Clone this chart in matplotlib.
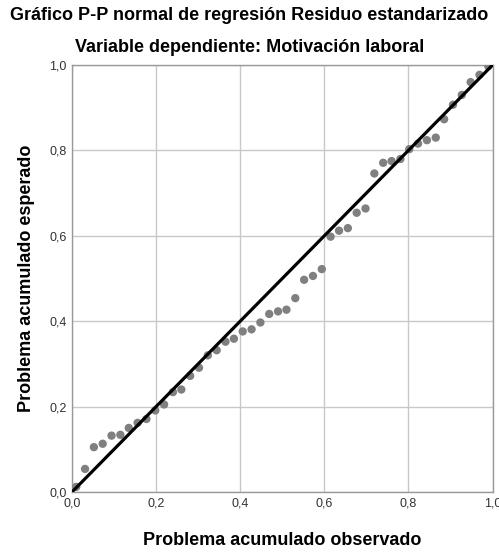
import matplotlib.pyplot as plt
from matplotlib.ticker import FuncFormatter

plt.rcParams['font.family'] = ['Liberation Sans', 'DejaVu Sans']

observado = [0.010, 0.031, 0.052, 0.073, 0.094, 0.115, 0.135, 0.156, 0.177, 0.198,
             0.219, 0.240, 0.260, 0.281, 0.302, 0.323, 0.344, 0.365, 0.385, 0.406,
             0.427, 0.448, 0.469, 0.490, 0.510, 0.531, 0.552, 0.573, 0.594, 0.615,
             0.635, 0.656, 0.677, 0.698, 0.719, 0.740, 0.760, 0.781, 0.802, 0.823,
             0.844, 0.865, 0.885, 0.906, 0.927, 0.948, 0.969, 0.990]
esperado = [0.012, 0.054, 0.105, 0.113, 0.132, 0.134, 0.150, 0.162, 0.171, 0.191,
            0.205, 0.234, 0.240, 0.272, 0.291, 0.320, 0.332, 0.352, 0.359, 0.376,
            0.381, 0.397, 0.417, 0.423, 0.427, 0.454, 0.497, 0.506, 0.522, 0.598,
            0.612, 0.618, 0.654, 0.664, 0.746, 0.771, 0.775, 0.780, 0.803, 0.816,
            0.824, 0.830, 0.873, 0.907, 0.930, 0.960, 0.977, 0.997]
ticks = [0.0, 0.2, 0.4, 0.6, 0.8, 1.0]

fig = plt.figure(figsize=(4.99, 5.52), dpi=100)
ax = fig.add_axes([0.1443, 0.1087, 0.8427, 0.7735])

ax.grid(True, color='#c8c8c8', linewidth=1.0, zorder=0)
ax.scatter(observado, esperado, s=36, color='#808080', edgecolors='none', zorder=3)
ax.plot([0, 1], [0, 1], color='black', linewidth=2.3, zorder=4)

ax.set_xlim(0, 1)
ax.set_ylim(0, 1)
ax.set_xticks(ticks)
ax.set_yticks(ticks)
fmt = FuncFormatter(lambda v, p: f'{v:.1f}'.replace('.', ','))
ax.xaxis.set_major_formatter(fmt)
ax.yaxis.set_major_formatter(fmt)
ax.tick_params(labelsize=9, labelcolor='#333333', length=0, pad=4)
for s in ax.spines.values():
    s.set_color('#999999')
    s.set_linewidth(1.0)

ax.set_xlabel('Problema acumulado observado', fontsize=13, fontweight='bold', labelpad=16)
ax.set_ylabel('Problema acumulado esperado', fontsize=13, fontweight='bold', labelpad=10)

fig.text(0.5, 1 - 15 / 552, 'Gráfico P-P normal de regresión Residuo estandarizado',
         ha='center', va='center', fontsize=13, fontweight='bold')
fig.text(0.5, 1 - 48 / 552, 'Variable dependiente: Motivación laboral',
         ha='center', va='center', fontsize=13, fontweight='bold')

fig.savefig('out.png', dpi=100)
